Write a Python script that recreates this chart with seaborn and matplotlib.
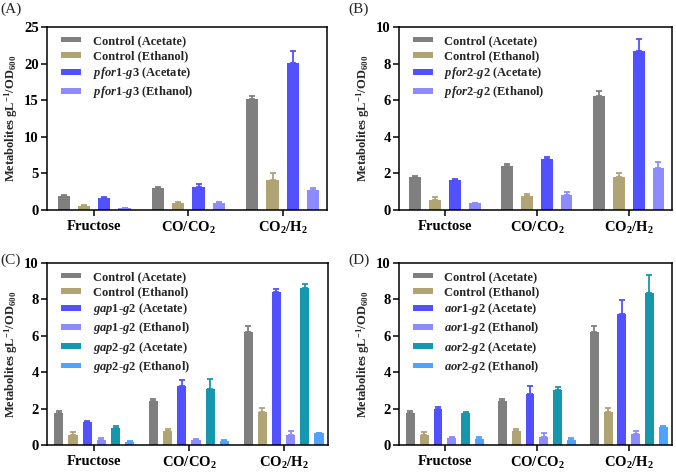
import pandas as pd
import matplotlib
matplotlib.use('Agg')
import matplotlib.pyplot as plt
import seaborn as sns

sns.set_style('ticks')
plt.rcParams['font.family'] = ['Liberation Serif', 'DejaVu Serif']
plt.rcParams['font.weight'] = 'bold'
plt.rcParams['mathtext.fontset'] = 'custom'
plt.rcParams['mathtext.rm'] = 'Liberation Serif:bold'
plt.rcParams['mathtext.bf'] = 'Liberation Serif:bold'
plt.rcParams['mathtext.it'] = 'Liberation Serif:bold:italic'
plt.rcParams['mathtext.default'] = 'rm'

# data
substrates = ['Fructose', 'CO/CO$_2$', 'CO$_2$/H$_2$']

ctrl_ace = [1.78, 2.42, 6.22]
ctrl_ace_err = [0.07, 0.10, 0.30]
ctrl_eth = [0.55, 0.78, 1.80]
ctrl_eth_err = [0.15, 0.12, 0.22]

# panel A has its own control run
a_ctrl_ace = [1.85, 3.0, 15.2]
a_ctrl_ace_err = [0.15, 0.2, 0.4]
a_ctrl_eth = [0.5, 0.9, 4.1]
a_ctrl_eth_err = [0.15, 0.15, 1.0]
pfor1_ace = [1.6, 3.2, 20.1]
pfor1_ace_err = [0.15, 0.3, 1.6]
pfor1_eth = [0.25, 0.9, 2.7]
pfor1_eth_err = [0.08, 0.25, 0.3]

pfor2_ace = [1.65, 2.8, 8.7]
pfor2_ace_err = [0.06, 0.08, 0.65]
pfor2_eth = [0.4, 0.8, 2.3]
pfor2_eth_err = [0.0, 0.2, 0.3]

gap1_ace = [1.25, 3.25, 8.4]
gap1_ace_err = [0.08, 0.3, 0.18]
gap1_eth = [0.28, 0.25, 0.55]
gap1_eth_err = [0.1, 0.06, 0.2]
gap2_ace = [0.93, 3.1, 8.6]
gap2_ace_err = [0.12, 0.5, 0.25]
gap2_eth = [0.18, 0.2, 0.65]
gap2_eth_err = [0.06, 0.1, 0.0]

aor1_ace = [1.97, 2.78, 7.2]
aor1_ace_err = [0.12, 0.45, 0.75]
aor1_eth = [0.4, 0.45, 0.62]
aor1_eth_err = [0.05, 0.2, 0.15]
aor2_ace = [1.77, 3.0, 8.35]
aor2_ace_err = [0.07, 0.2, 1.0]
aor2_eth = [0.35, 0.28, 1.0]
aor2_eth_err = [0.1, 0.08, 0.05]

colors4 = ['#7f7f7f', '#b0a474', '#5151ff', '#8c8cff']
colors6 = ['#7f7f7f', '#b0a474', '#5151ff', '#8c8cff', '#1598ad', '#4fa3ff']


def lab(gene, prod):
    a, b = gene.split('-')
    return r'$\mathit{%s}$-$\mathit{%s}$ (%s)' % (a, b, prod)


def panel(rect, letter, names, vals, errs, colors, ymax, ystep, width, gap, lpos):
    ax = fig.add_axes(rect)
    rows = []
    for n, v in zip(names, vals):
        for s, y in zip(substrates, v):
            rows.append({'substrate': s, 'strain': n, 'value': y})
    df = pd.DataFrame(rows)
    sns.barplot(data=df, x='substrate', y='value', hue='strain', hue_order=names,
                palette=colors, width=width, gap=gap, errorbar=None, saturation=1,
                linewidth=0, ax=ax)
    for cont, e, c in zip(ax.containers, errs, colors):
        xs = [p.get_x() + p.get_width() / 2 for p in cont]
        ys = [p.get_height() for p in cont]
        ax.errorbar(xs, ys, yerr=[[0] * len(e), e], fmt='none', ecolor=c,
                    elinewidth=1.3, capsize=2.2, capthick=1.3)
    ax.set_xlim(-0.5, 2.47)
    ax.set_ylim(0, ymax)
    ax.set_yticks(range(0, ymax + 1, ystep))
    ax.set_xlabel('')
    ax.set_ylabel('Metabolites gL$^{-1}$/OD$_{600}$', fontsize=9, fontweight='bold', labelpad=3)
    for sp in ax.spines.values():
        sp.set_visible(True)
        sp.set_linewidth(1.1)
        sp.set_color('black')
    ax.tick_params(axis='both', direction='out', length=4, width=1.1, colors='black')
    ax.tick_params(axis='y', labelsize=10.5, pad=2)
    ax.tick_params(axis='x', labelsize=10.5, pad=3)
    for t in ax.get_yticklabels() + ax.get_xticklabels():
        t.set_fontweight('bold')
    h, l = ax.get_legend_handles_labels()
    leg = ax.legend(h, l, loc='upper left', frameon=False, fontsize=9,
                    handlelength=1.6, handleheight=0.3, handletextpad=0.95,
                    labelspacing=0.25, borderaxespad=0.25, bbox_to_anchor=(0.02, 1.0))
    for t in leg.get_texts():
        t.set_fontweight('bold')
    fig.text(lpos[0], lpos[1], letter, fontsize=11, fontweight='normal',
             ha='left', va='top')
    return ax


fig = plt.figure(figsize=(6.76, 4.72), dpi=100)
W, H = 676, 472


def r(x0, x1, y0, y1):
    return [x0 / W, 1 - y1 / H, (x1 - x0) / W, (y1 - y0) / H]


names_a = ['Control (Acetate)', 'Control (Ethanol)', lab('pfor1-g3', 'Acetate'), lab('pfor1-g3', 'Ethanol')]
panel(r(47, 327, 27, 210), '(A)', names_a,
      [a_ctrl_ace, a_ctrl_eth, pfor1_ace, pfor1_eth],
      [a_ctrl_ace_err, a_ctrl_eth_err, pfor1_ace_err, pfor1_eth_err],
      colors4, 25, 5, 0.86, 0.4, (0 / W, 1 - 3 / H))

names_b = ['Control (Acetate)', 'Control (Ethanol)', lab('pfor2-g2', 'Acetate'), lab('pfor2-g2', 'Ethanol')]
panel(r(399, 672, 27, 210), '(B)', names_b,
      [ctrl_ace, ctrl_eth, pfor2_ace, pfor2_eth],
      [ctrl_ace_err, ctrl_eth_err, pfor2_ace_err, pfor2_eth_err],
      colors4, 10, 2, 0.86, 0.4, (348 / W, 1 - 3 / H))

names_c = ['Control (Acetate)', 'Control (Ethanol)', lab('gap1-g2', 'Acetate'), lab('gap1-g2', 'Ethanol'),
           lab('gap2-g2', 'Acetate'), lab('gap2-g2', 'Ethanol')]
panel(r(47, 328, 263, 445), '(C)', names_c,
      [ctrl_ace, ctrl_eth, gap1_ace, gap1_eth, gap2_ace, gap2_eth],
      [ctrl_ace_err, ctrl_eth_err, gap1_ace_err, gap1_eth_err, gap2_ace_err, gap2_eth_err],
      colors6, 10, 2, 0.9, 0.36, (0 / W, 1 - 254 / H))

names_d = ['Control (Acetate)', 'Control (Ethanol)', lab('aor1-g2', 'Acetate'), lab('aor1-g2', 'Ethanol'),
           lab('aor2-g2', 'Acetate'), lab('aor2-g2', 'Ethanol')]
panel(r(399, 672, 263, 445), '(D)', names_d,
      [ctrl_ace, ctrl_eth, aor1_ace, aor1_eth, aor2_ace, aor2_eth],
      [ctrl_ace_err, ctrl_eth_err, aor1_ace_err, aor1_eth_err, aor2_ace_err, aor2_eth_err],
      colors6, 10, 2, 0.9, 0.36, (348 / W, 1 - 254 / H))

fig.savefig('out.png', dpi=100)
